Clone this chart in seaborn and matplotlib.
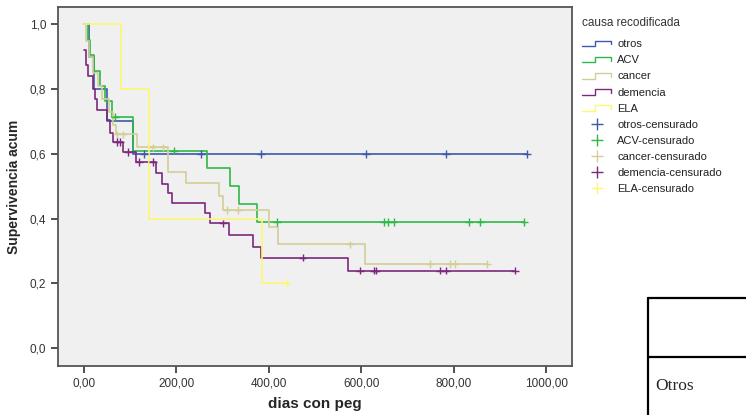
import numpy as np
import pandas as pd
import matplotlib
matplotlib.use("Agg")
import matplotlib.pyplot as plt
import seaborn as sns
from matplotlib.lines import Line2D
from matplotlib.legend_handler import HandlerBase

# Kaplan-Meier curves (step change points)
otros_t = [0, 10, 22, 50, 106, 959]
otros_s = [1.0, 0.9, 0.8, 0.7, 0.6, 0.6]
otros_cens = [130, 253, 383, 610, 784, 959]

acv_t = [0, 8, 13, 22, 35, 45, 60, 106, 266, 316, 336, 374, 953]
acv_s = [1.0, 0.952, 0.905, 0.857, 0.81, 0.762, 0.714, 0.61, 0.557, 0.50, 0.445, 0.39, 0.39]
acv_cens = [67, 195, 418, 649, 658, 670, 833, 857, 953]

cancer_t = [0, 5, 12, 20, 30, 40, 55, 62, 70, 115, 182, 220, 293, 302, 401, 421, 608, 872]
cancer_s = [1.0, 0.95, 0.90, 0.85, 0.81, 0.77, 0.73, 0.69, 0.66, 0.62, 0.545, 0.509, 0.47, 0.427,
            0.375, 0.32, 0.259, 0.259]
cancer_cens = [72, 85, 150, 171, 309, 334, 576, 749, 791, 803, 872]

demencia_t = [0, 4, 9, 19, 24, 28, 50, 56, 62, 85, 113, 157, 168, 182, 190, 262, 273, 314, 366,
              383, 572, 933]
demencia_s = [0.92, 0.875, 0.84, 0.80, 0.77, 0.735, 0.705, 0.665, 0.637, 0.605, 0.575, 0.54, 0.507,
              0.478, 0.447, 0.416, 0.385, 0.349, 0.313, 0.279, 0.239, 0.239]
demencia_cens = [71, 78, 95, 119, 149, 301, 473, 597, 628, 632, 771, 783, 933]

ela_t = [0, 80, 141, 385, 439]
ela_s = [1.0, 0.8, 0.4, 0.2, 0.2]
ela_cens = [439]

groups = ["otros", "ACV", "cancer", "demencia", "ELA"]
colors = ["#3E58AC", "#2EB848", "#D3CE97", "#7C287D", "#FBF873"]

x_ticks = [0, 200, 400, 600, 800, 1000]
x_labels = ["0,00", "200,00", "400,00", "600,00", "800,00", "1000,00"]
y_ticks = [0.0, 0.2, 0.4, 0.6, 0.8, 1.0]
y_labels = ["0,0", "0,2", "0,4", "0,6", "0,8", "1,0"]

curves = {
    "otros": (otros_t, otros_s, otros_cens),
    "ACV": (acv_t, acv_s, acv_cens),
    "cancer": (cancer_t, cancer_s, cancer_cens),
    "demencia": (demencia_t, demencia_s, demencia_cens),
    "ELA": (ela_t, ela_s, ela_cens),
}

# Build tables
step_rows = []
cens_rows = []
for g in groups:
    t, s, c = curves[g]
    for ti, si in zip(t, s):
        step_rows.append((g, ti, si))
    t_arr = np.array(t)
    for ci in c:
        idx = np.searchsorted(t_arr, ci, side="right") - 1
        cens_rows.append((g, ci, s[idx]))
df_steps = pd.DataFrame(step_rows, columns=["causa", "dias", "surv"])
df_cens = pd.DataFrame(cens_rows, columns=["causa", "dias", "surv"])

sns.set_style("ticks")
plt.rcParams["font.family"] = ["Liberation Sans", "DejaVu Sans"]

fig = plt.figure(figsize=(7.46, 4.15), dpi=100)
ax = fig.add_axes([58 / 746, 49 / 415, 514 / 746, 359 / 415])
ax.set_facecolor("#F0F0F0")

palette = dict(zip(groups, colors))
sns.lineplot(data=df_steps, x="dias", y="surv", hue="causa", palette=palette,
             estimator=None, sort=False, drawstyle="steps-post", linewidth=1.2,
             legend=False, ax=ax)
sns.scatterplot(data=df_cens, x="dias", y="surv", hue="causa", palette=palette,
                marker="+", s=30, linewidth=1.0, legend=False, ax=ax, zorder=3)

ax.set_xlim(-56, 1056)
ax.set_ylim(-0.056, 1.054)
ax.set_xticks(x_ticks)
ax.set_xticklabels(x_labels)
ax.set_yticks(y_ticks)
ax.set_yticklabels(y_labels)
ax.tick_params(axis="both", labelsize=8.5, colors="#333333", length=5, width=1.2,
               direction="out")
for sp in ax.spines.values():
    sp.set_color("#555555")
    sp.set_linewidth(1.3)
ax.set_xlabel("dias con peg", fontsize=11, fontweight="bold", labelpad=5)
ax.set_ylabel("Supervivencia acum", fontsize=10, fontweight="bold", labelpad=6)


class StepHandler(HandlerBase):
    def create_artists(self, legend, orig_handle, xdescent, ydescent, width, height,
                       fontsize, trans):
        x0, y0 = -xdescent, -ydescent
        xs = [x0, x0 + width * 0.45, x0 + width * 0.45, x0 + width, x0 + width]
        ys = [y0 + height * 0.1, y0 + height * 0.1, y0 + height * 0.85, y0 + height * 0.85,
              y0 + height * 0.35]
        ln = Line2D(xs, ys, color=orig_handle.get_color(), linewidth=1.0, transform=trans)
        return [ln]


handles = []
labels = []
handler_map = {}
for g, col in zip(groups, colors):
    h = Line2D([], [], color=col)
    handles.append(h)
    labels.append(g)
    handler_map[h] = StepHandler()
for g, col in zip(groups, colors):
    handles.append(Line2D([], [], color=col, marker="+", linestyle="none",
                          markersize=8, markeredgewidth=1.0))
    labels.append(f"{g}-censurado")

leg = fig.legend(handles, labels, handler_map=handler_map, title="causa recodificada",
                 loc="upper left", bbox_to_anchor=(578 / 746, 1 - 13 / 415),
                 frameon=False, fontsize=8, title_fontsize=8.5, labelspacing=0.55,
                 handlelength=2.6, handletextpad=0.55, borderaxespad=0)
leg._legend_box.align = "left"
leg._legend_box.sep = 7
leg.get_title().set_color("#333333")
for txt in leg.get_texts():
    txt.set_color("#222222")

# Fragment of a table at the bottom right of the screenshot
W, H = 746, 415
def fline(x1, y1, x2, y2):
    fig.add_artist(Line2D([x1 / W, x2 / W], [1 - y1 / H, 1 - y2 / H],
                          transform=fig.transFigure, color="black", linewidth=1.6))
fline(648, 298, 648, 415)
fline(648, 298, 746, 298)
fline(648, 357, 746, 357)
fig.text(655 / W, 1 - 386 / H, "Otros", fontsize=12.5, va="center", ha="left",
         family=["Liberation Serif", "DejaVu Serif"])

fig.savefig("out.png", dpi=100)
